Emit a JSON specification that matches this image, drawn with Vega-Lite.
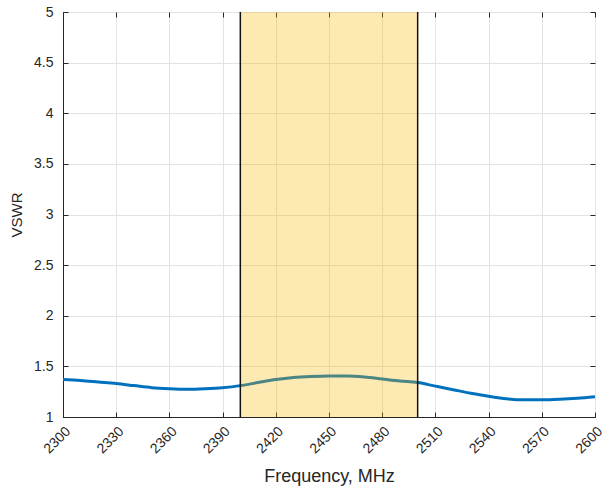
{
  "$schema": "https://vega.github.io/schema/vega-lite/v6.json",
  "width": 532,
  "height": 405,
  "autosize": {"type": "none"},
  "padding": {"left": 63, "top": 12, "right": 11, "bottom": 74},
  "background": "white",
  "config": {
    "view": {"stroke": "#262626", "strokeWidth": 1},
    "font": "Liberation Sans",
    "axis": {
      "domainColor": "#262626",
      "tickColor": "#262626",
      "labelColor": "#262626",
      "titleColor": "#262626",
      "labelFont": "Liberation Sans",
      "titleFont": "Liberation Sans",
      "labelFontSize": 14,
      "titleFontSize": 14,
      "titleFontWeight": "normal",
      "gridColor": "#e3e3e3",
      "tickSize": -5
    }
  },
  "datasets": {
    "curve": [
      {"f": 2300, "v": 1.37}, {"f": 2310, "v": 1.36}, {"f": 2320, "v": 1.345},
      {"f": 2330, "v": 1.33}, {"f": 2340, "v": 1.31}, {"f": 2350, "v": 1.29},
      {"f": 2360, "v": 1.28}, {"f": 2370, "v": 1.275}, {"f": 2380, "v": 1.28},
      {"f": 2390, "v": 1.29}, {"f": 2400, "v": 1.31}, {"f": 2410, "v": 1.34},
      {"f": 2420, "v": 1.37}, {"f": 2430, "v": 1.39}, {"f": 2440, "v": 1.4},
      {"f": 2450, "v": 1.405}, {"f": 2460, "v": 1.405}, {"f": 2470, "v": 1.395},
      {"f": 2480, "v": 1.375}, {"f": 2490, "v": 1.355}, {"f": 2500, "v": 1.34},
      {"f": 2510, "v": 1.305}, {"f": 2520, "v": 1.27}, {"f": 2530, "v": 1.235},
      {"f": 2540, "v": 1.205}, {"f": 2550, "v": 1.18}, {"f": 2560, "v": 1.17},
      {"f": 2570, "v": 1.17}, {"f": 2580, "v": 1.175}, {"f": 2590, "v": 1.185},
      {"f": 2600, "v": 1.2}
    ],
    "band": [{"f1": 2400, "f2": 2500, "y1": 1, "y2": 5}],
    "edges": [{"f": 2400}, {"f": 2500}]
  },
  "layer": [
    {
      "data": {"name": "curve"},
      "mark": {"type": "line", "color": "#0072BD", "strokeWidth": 3, "interpolate": "monotone"},
      "encoding": {
        "x": {"field": "f", "type": "quantitative",
              "scale": {"domain": [2300, 2600], "nice": false, "zero": false},
              "axis": {"values": [2300, 2330, 2360, 2390, 2420, 2450, 2480, 2510, 2540, 2570, 2600],
                       "format": "d",
                       "title": "Frequency, MHz", "titleFontSize": 18, "labelAngle": -45, "labelAlign": "right",
                       "labelBaseline": "top", "labelPadding": 12, "titlePadding": 12}},
        "y": {"field": "v", "type": "quantitative",
              "scale": {"domain": [1, 5], "nice": false, "zero": false},
              "axis": {"values": [1, 1.5, 2, 2.5, 3, 3.5, 4, 4.5, 5], "format": "~g", "title": "VSWR",
                       "titleFontSize": 15, "labelPadding": 15, "titlePadding": 9}}
      }
    },
    {
      "data": {"name": "band"},
      "mark": {"type": "rect", "color": "#F8B600", "opacity": 0.3},
      "encoding": {
        "x": {"field": "f1", "type": "quantitative", "axis": null},
        "x2": {"field": "f2"},
        "y": {"field": "y1", "type": "quantitative", "axis": null},
        "y2": {"field": "y2"}
      }
    },
    {
      "data": {"name": "edges"},
      "mark": {"type": "rule", "color": "#111111", "strokeWidth": 1.5},
      "encoding": {
        "x": {"field": "f", "type": "quantitative", "axis": null}
      }
    },
    {
      "data": {"name": "edges"},
      "mark": {"type": "rule", "opacity": 0},
      "encoding": {
        "x": {"field": "f", "type": "quantitative",
              "axis": {"orient": "top", "labels": false, "title": null, "grid": false, "domain": false,
                       "values": [2300, 2330, 2360, 2390, 2420, 2450, 2480, 2510, 2540, 2570, 2600]}},
        "y": {"datum": 1, "type": "quantitative",
              "axis": {"orient": "right", "labels": false, "title": null, "grid": false, "domain": false,
                       "values": [1, 1.5, 2, 2.5, 3, 3.5, 4, 4.5, 5]}}
      }
    }
  ],
  "resolve": {"axis": {"x": "independent", "y": "independent"}}
}
